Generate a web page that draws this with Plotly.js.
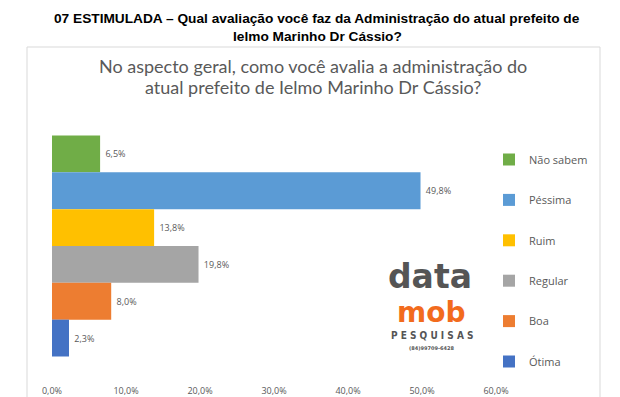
<!DOCTYPE html>
<html>
<head>
<meta charset="utf-8">
<script src="https://cdn.plot.ly/plotly-3.0.1.min.js"></script>
<style>
html,body{margin:0;padding:0;background:#fff;}
#chart{width:620px;height:397px;}
</style>
</head>
<body>
<div id="chart"></div>
<script>
// Data (display order, top to bottom)
var categories = ["Não sabem", "Péssima", "Ruim", "Regular", "Boa", "Ótima"];
var values = [0.065, 0.498, 0.138, 0.198, 0.080, 0.023];
var colors = ["#70AD47", "#5B9BD5", "#FFC000", "#A5A5A5", "#ED7D31", "#4472C4"];
var tickValues = [0, 0.1, 0.2, 0.3, 0.4, 0.5, 0.6];

var traces = categories.map(function (name, i) {
  return {
    type: "bar",
    orientation: "h",
    name: name,
    legendgroup: "g" + i,
    y: [""],
    x: [values[i]],
    marker: { color: colors[i] },
    texttemplate: "\u00a0%{x:.1%}",
    textposition: "outside",
    cliponaxis: false,
    textfont: { family: "Open Sans, sans-serif", size: 9, color: "#595959" },
    hoverinfo: "skip"
  };
});

var L = 52, R = 124, T = 120, B = 25;
var W = 620 - L - R, H = 397 - T - B;
function px(x) { return (x - L) / W; }
function py(y) { return (397 - B - y) / H; }

var layout = {
  width: 620,
  height: 397,
  margin: { l: L, r: R, t: T, b: B },
  paper_bgcolor: "#ffffff",
  plot_bgcolor: "#ffffff",
  separators: ",.",
  barmode: "group",
  bargap: 0.123,
  bargroupgap: 0,
  showlegend: true,
  xaxis: {
    range: [0, 0.6],
    tickvals: tickValues,
    tickformat: ".1%",
    showgrid: false,
    zeroline: false,
    showline: false,
    ticks: "",
    ticklabelstandoff: 12,
    tickfont: { family: "Open Sans, sans-serif", size: 9, color: "#595959" },
    fixedrange: true
  },
  yaxis: {
    autorange: "reversed",
    showticklabels: false,
    showgrid: false,
    zeroline: false,
    showline: false,
    ticks: "",
    fixedrange: true
  },
  legend: {
    x: px(489),
    xanchor: "left",
    y: py(145),
    yanchor: "top",
    traceorder: "grouped",
    tracegroupgap: 21.4,
    itemwidth: 30,
    font: { family: "Open Sans, sans-serif", size: 11, color: "#595959" },
    bgcolor: "rgba(0,0,0,0)"
  },
  shapes: [
    {
      type: "rect", xref: "paper", yref: "paper",
      x0: px(27), x1: px(600), y0: py(402), y1: py(47),
      line: { color: "#D9D9D9", width: 1 },
      fillcolor: "rgba(0,0,0,0)",
      layer: "below"
    }
  ],
  annotations: [
    {
      text: "<b>07 ESTIMULADA – Qual avaliação você faz da Administração do atual prefeito de</b>",
      xref: "paper", yref: "paper",
      x: px(317), y: py(18),
      xanchor: "center", yanchor: "middle",
      showarrow: false,
      font: { family: "Liberation Sans, Arial, sans-serif", size: 13.7, color: "#000000" }
    },
    {
      text: "<b>Ielmo Marinho Dr Cássio?</b>",
      xref: "paper", yref: "paper",
      x: px(317), y: py(36),
      xanchor: "center", yanchor: "middle",
      showarrow: false,
      font: { family: "Liberation Sans, Arial, sans-serif", size: 13.7, color: "#000000" }
    },
    {
      text: "No aspecto geral, como você avalia a administração do",
      xref: "paper", yref: "paper",
      x: px(313), y: py(66),
      xanchor: "center", yanchor: "middle",
      showarrow: false,
      font: { family: "Lato, sans-serif", size: 18, color: "#595959" }
    },
    {
      text: "atual prefeito de Ielmo Marinho Dr Cássio?",
      xref: "paper", yref: "paper",
      x: px(313), y: py(87),
      xanchor: "center", yanchor: "middle",
      showarrow: false,
      font: { family: "Lato, sans-serif", size: 18, color: "#595959" }
    },
    {
      text: "<b>data</b>",
      xref: "paper", yref: "paper",
      x: px(430), y: py(276),
      xanchor: "center", yanchor: "middle",
      showarrow: false,
      font: { family: "DejaVu Sans, sans-serif", size: 33, color: "#555555" }
    },
    {
      text: "<b>mob</b>",
      xref: "paper", yref: "paper",
      x: px(431), y: py(312),
      xanchor: "center", yanchor: "middle",
      showarrow: false,
      font: { family: "DejaVu Sans, sans-serif", size: 28, color: "#F26B1D" }
    },
    {
      text: "<b>P E S Q U I S A S</b>",
      xref: "paper", yref: "paper",
      x: px(432), y: py(335.5),
      xanchor: "center", yanchor: "middle",
      showarrow: false,
      font: { family: "DejaVu Sans Condensed, DejaVu Sans, sans-serif", size: 10, color: "#555555" }
    },
    {
      text: "<b>(84)99709-6428</b>",
      xref: "paper", yref: "paper",
      x: px(431), y: py(348),
      xanchor: "center", yanchor: "middle",
      showarrow: false,
      font: { family: "DejaVu Sans, sans-serif", size: 5, color: "#555555" }
    }
  ]
};

Plotly.newPlot("chart", traces, layout, { displayModeBar: false, staticPlot: true });
</script>
</body>
</html>
